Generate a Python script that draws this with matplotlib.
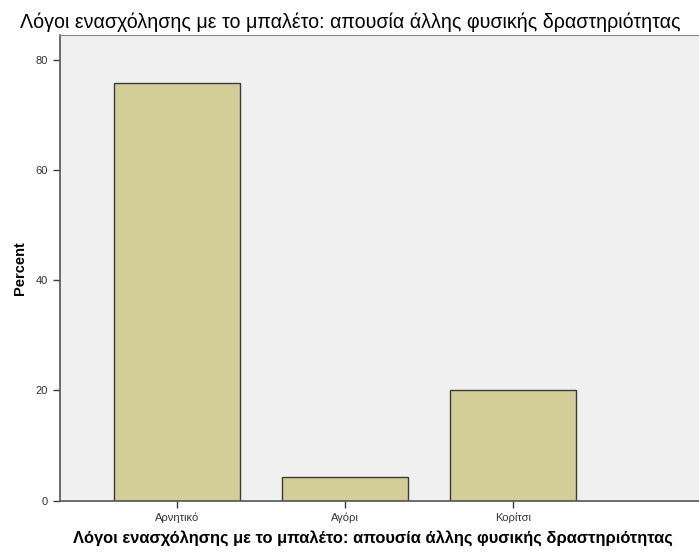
import matplotlib
matplotlib.use('Agg')
from matplotlib import pyplot as plt

# Δεδομένα
katigories = ['Αρνητικό', 'Αγόρι', 'Κορίτσι']
pososta = [75.7, 4.3, 20.0]
titlos = 'Λόγοι ενασχόλησης με το μπαλέτο: απουσία άλλης φυσικής δραστηριότητας'

plt.rcParams['font.family'] = ['Liberation Sans', 'DejaVu Sans']

fig = plt.figure(figsize=(6.99, 5.52), dpi=100)
ax = fig.add_axes([0.0858, 0.0930, 0.9142, 0.8436])
ax.set_facecolor('#F0F0F0')

x = range(len(katigories))
ax.bar(x, pososta, width=0.75, color='#D3CE97', edgecolor='#3C3C3C', linewidth=1.0)

ax.set_xlim(-0.696, 3.11)
ax.set_ylim(0, 84.5)
ax.set_yticks([0, 20, 40, 60, 80])
ax.set_xticks(list(x))
ax.set_xticklabels(katigories)

ax.tick_params(axis='both', labelsize=8, colors='#3C3C3C', labelcolor='#333333',
               length=5, width=1.0)

for s in ['left', 'bottom']:
    ax.spines[s].set_color('#555555')
    ax.spines[s].set_linewidth(1.2)
ax.spines['top'].set_color('#888888')
ax.spines['right'].set_visible(False)

ax.set_ylabel('Percent', fontsize=10.5, fontweight='bold', labelpad=6)
ax.set_xlabel(titlos, fontsize=11.9, fontweight='bold', labelpad=6)
ax.xaxis.set_label_coords(0.49, -0.064)
fig.text(0.028, 0.96, titlos, fontsize=14.1, ha='left', va='center')

fig.savefig('out.png', dpi=100)
